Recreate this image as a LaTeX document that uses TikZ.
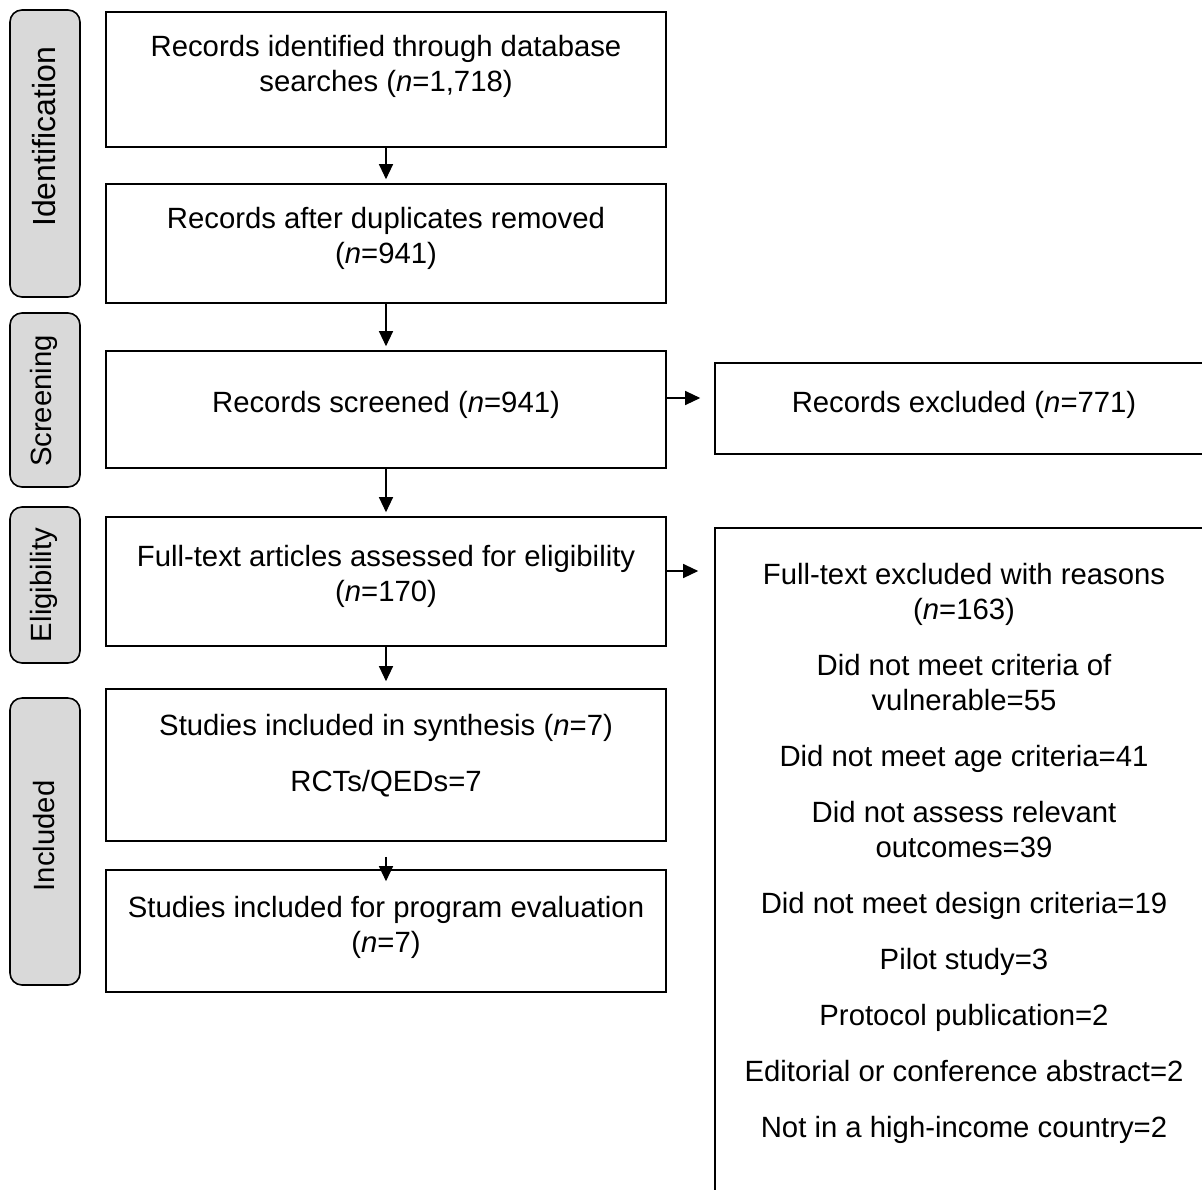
\documentclass[tikz,border=0pt]{standalone}
\usepackage{fontspec}
\setmainfont{Liberation Sans}
\usepackage{tikz}
\usetikzlibrary{arrows.meta}

\definecolor{phasegray}{RGB}{217,217,217}

\tikzset{
  flowbox/.style={draw, line width=0.8pt, minimum width=280pt, inner sep=0pt},
  phasebox/.style={draw, line width=0.8pt, fill=phasegray, rounded corners=6pt, rotate=90, minimum height=35pt, inner sep=0pt},
  flowtxt/.style={align=center, inner sep=0pt, font=\fontsize{14.65pt}{17.5pt}\selectfont},
  phasetxt/.style={rotate=90, inner sep=0pt, font=\fontsize{14.65pt}{17.5pt}\selectfont},
  flowarr/.style={-{Triangle[length=7.5pt,width=7pt]}, line width=0.6pt, shorten >=2pt},
}

\begin{document}
\begin{tikzpicture}[x=0.5pt,y=0.5pt,yscale=-1]
\clip (0,0) rectangle (1202,1189);
% Phase labels
\node[phasebox, minimum width=143.5pt] (phid) at (45,153.5) {};
\node[phasebox, minimum width=87pt] (phsc) at (45,400) {};
\node[phasebox, minimum width=78pt] (phel) at (45,585) {};
\node[phasebox, minimum width=143.5pt] (phin) at (45,841.5) {};
\node[phasetxt, font=\fontsize{16pt}{19pt}\selectfont] (phidtxt) at (44,137) {Identification};
\node[phasetxt] (phsctxt) at (44,401) {Screening};
\node[phasetxt] (pheltxt) at (44,585) {Eligibility};
\node[phasetxt] (phintxt) at (44,836) {Included};
% Main boxes
\node[flowbox, minimum height=67.5pt] (ident) at (386,79.5) {};
\node[flowbox, minimum height=59.5pt] (dedup) at (386,243.5) {};
\node[flowbox, minimum height=58.5pt] (screen) at (386,409.5) {};
\node[flowbox, minimum height=64.5pt] (fulltxt) at (386,581.5) {};
\node[flowbox, minimum height=76pt] (synth) at (386,765) {};
\node[flowbox, minimum height=61pt] (progeval) at (386,931) {};
% Exclusion boxes
\node[flowbox, minimum width=262.5pt, minimum height=45.5pt] (excl) at (977.5,408.5) {};
\node[flowbox, minimum width=262.5pt, minimum height=351pt] (ftexcl) at (977.5,879) {};
% Text Node
\node[flowtxt] (identtxt) at (386,66) {Records identified through database\\searches (\textit{n}=1,718)};
\node[flowtxt] (deduptxt) at (386,238) {Records after duplicates removed\\(\textit{n}=941)};
\node[flowtxt] (screentxt) at (386,405) {Records screened (\textit{n}=941)};
\node[flowtxt] (fulltxttxt) at (386,576) {Full-text articles assessed for eligibility\\(\textit{n}=170)};
\node[flowtxt] (synthtxt) at (386,756) {Studies included in synthesis (\textit{n}=7)\\[10.5pt]RCTs/QEDs=7};
\node[flowtxt] (progevaltxt) at (386,927) {Studies included for program evaluation\\(\textit{n}=7)};
\node[flowtxt] (excltxt) at (964,405) {Records excluded (\textit{n}=771)};
\node[flowtxt] (ftexcltxt) at (964,853) {Full-text excluded with reasons\\(\textit{n}=163)\\[10.5pt]
  Did not meet criteria of\\vulnerable=55\\[10.5pt]
  Did not meet age criteria=41\\[10.5pt]
  Did not assess relevant\\outcomes=39\\[10.5pt]
  Did not meet design criteria=19\\[10.5pt]
  Pilot study=3\\[10.5pt]
  Protocol publication=2\\[10.5pt]
  Editorial or conference abstract=2\\[10.5pt]
  Not in a high-income country=2};
% Arrows
\draw[flowarr] (ident) -- (dedup);
\draw[flowarr] (dedup) -- (screen);
\draw[flowarr] (screen) -- (fulltxt);
\draw[flowarr, shorten >=3.5pt] (fulltxt) -- (synth);
\draw[flowarr, shorten >=0pt] ([yshift=7.5pt]synth.south) -- ([yshift=6pt]progeval.north);
\draw[flowarr, shorten >=7pt] ([yshift=-5.75pt]screen.east) -- ([yshift=-5.75pt]screen.east -| excl.west);
\draw[flowarr, shorten >=8pt] ([yshift=-5.25pt]fulltxt.east) -- ([yshift=-5.25pt]fulltxt.east -| ftexcl.west);
\end{tikzpicture}
\end{document}
